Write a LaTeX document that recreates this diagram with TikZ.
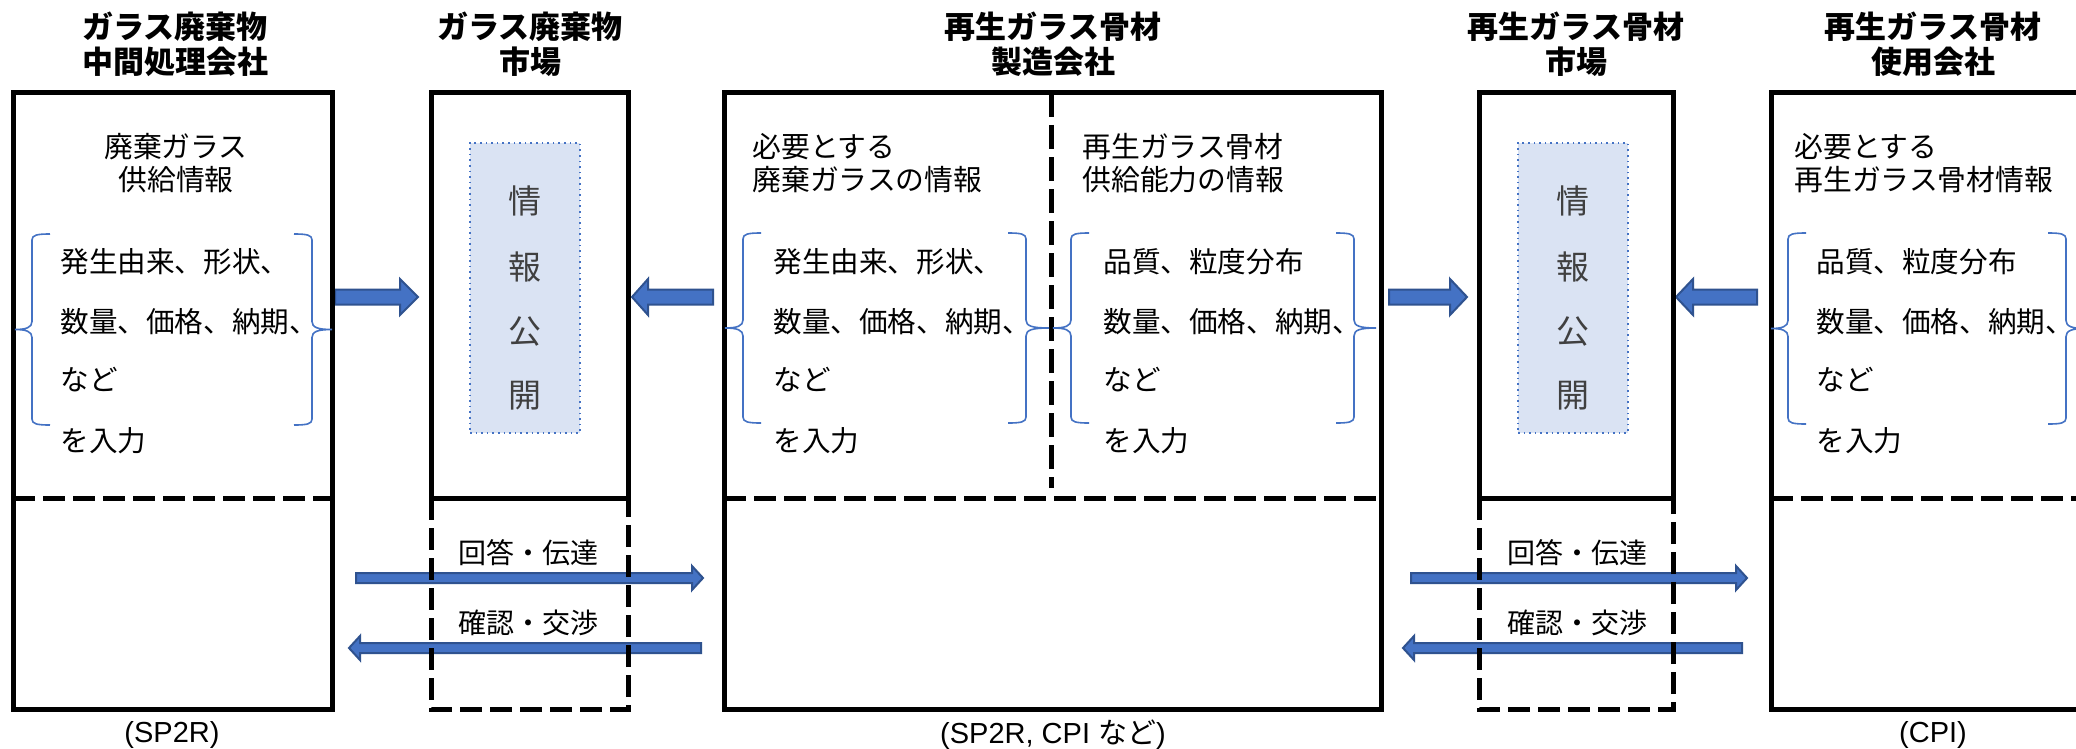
\documentclass[tikz,border=0pt]{standalone}
\usepackage{fontspec}
\setmainfont{Noto Sans CJK JP}
\newfontfamily\footfont{Liberation Sans}
\newfontfamily\cjkfoot{Noto Sans CJK JP}
\usetikzlibrary{calc}
\definecolor{arrowfill}{HTML}{4472C4}
\definecolor{arrowedge}{HTML}{2F528F}
\definecolor{bracecol}{HTML}{4472C4}
\definecolor{dotfill}{HTML}{DAE3F3}
\definecolor{dotedge}{HTML}{4472C4}
\definecolor{vtext}{HTML}{404040}
\tikzset{
 box/.style={line width=2.5pt, draw=black},
 dashline/.style={line width=2.5pt, draw=black, dash pattern=on 11pt off 4pt},
 hdr/.style={font=\fontsize{15.5pt}{18pt}\selectfont\bfseries, inner sep=0pt},
 ttl/.style={font=\fontsize{14.4pt}{17pt}\selectfont, inner sep=0pt},
 ttlw/.style={ttl, anchor=west},
 itm/.style={font=\fontsize{14.3pt}{16pt}\selectfont, inner sep=0pt, anchor=west},
 vch/.style={font=\fontsize{16.5pt}{18pt}\selectfont, text=vtext, inner sep=0pt},
 lbl/.style={font=\fontsize{14pt}{16pt}\selectfont, inner sep=0pt},
 foot/.style={font=\footfont\fontsize{14.5pt}{16pt}\selectfont, inner sep=0pt},
 brace/.style={draw=bracecol, line width=0.8pt},
 dotbox/.style={fill=dotfill, draw=dotedge, line width=0.8pt, dotted},
 blockarrow/.style={fill=arrowfill, draw=arrowedge, line width=1pt, line join=miter},
}
\newcommand\leftbr[4]{\pgfmathsetmacro\brmid{(#3+#4)/2}%
 \draw[brace] ({#1+18},#3) .. controls ({#1+5},#3) and (#1,{#3+1}) .. (#1,{#3+6}) -- (#1,{\brmid-8}) .. controls (#1,{\brmid-2}) and ({#1-6},\brmid) .. (#2,\brmid) .. controls ({#1-6},\brmid) and (#1,{\brmid+2}) .. (#1,{\brmid+8}) -- (#1,{#4-6}) .. controls (#1,{#4-1}) and ({#1+5},#4) .. ({#1+18},#4);}
\newcommand\rightbr[4]{\pgfmathsetmacro\brmid{(#3+#4)/2}%
 \draw[brace] ({#1-18},#3) .. controls ({#1-5},#3) and (#1,{#3+1}) .. (#1,{#3+6}) -- (#1,{\brmid-8}) .. controls (#1,{\brmid-2}) and ({#1+6},\brmid) .. (#2,\brmid) .. controls ({#1+6},\brmid) and (#1,{\brmid+2}) .. (#1,{\brmid+8}) -- (#1,{#4-6}) .. controls (#1,{#4-1}) and ({#1-5},#4) .. ({#1-18},#4);}
\newcommand\harrow[5]{\draw[blockarrow] ($(#1)+(0,#3)$) -- ($(#2)+({-(#5)},#3)$) -- ($(#2)+({-(#5)},#4)$) -- (#2) -- ($(#2)+({-(#5)},{-(#4)})$) -- ($(#2)+({-(#5)},{-(#3)})$) -- ($(#1)+(0,{-(#3)})$) -- cycle;}
\begin{document}
\begin{tikzpicture}[x=0.5pt, y=-0.5pt]
\useasboundingbox (0,0) rectangle (2076,749);
\clip (0,0) rectangle (2076,749);
\fill[white] (0,0) rectangle (2076,749);

% dotted info boxes
\node[dotbox, minimum width=55pt, minimum height=145pt, inner sep=0pt] (pub1) at (525,288) {};
\node[dotbox, minimum width=55pt, minimum height=145pt, inner sep=0pt] (pub2) at (1573,288) {};

% block arrows
\coordinate (a1s) at (335,297); \coordinate (a1t) at (418,297);
\coordinate (a2s) at (713,297); \coordinate (a2t) at (632,297);
\coordinate (a3s) at (1389,297); \coordinate (a3t) at (1467,297);
\coordinate (a4s) at (1757,297); \coordinate (a4t) at (1676,297);
\harrow{a1s}{a1t}{7.5}{18}{18}
\harrow{a2s}{a2t}{7.5}{18}{-16}
\harrow{a3s}{a3t}{7.5}{18}{17}
\harrow{a4s}{a4t}{7.5}{18}{-17}

% long arrows
\coordinate (l1s) at (356,578); \coordinate (l1t) at (703,578);
\coordinate (l2s) at (701,648); \coordinate (l2t) at (349,648);
\coordinate (l3s) at (1411,578); \coordinate (l3t) at (1747,578);
\coordinate (l4s) at (1742,648); \coordinate (l4t) at (1403,648);
\harrow{l1s}{l1t}{5}{12}{11}
\harrow{l2s}{l2t}{5}{12}{-11}
\harrow{l3s}{l3t}{5}{12}{11}
\harrow{l4s}{l4t}{5}{12}{-11}

% boxes
\draw[box] (13,93) rectangle (332,709);
\draw[dashline] (13,498) -- (332,498);
\draw[box] (431,93) rectangle (628,498);
\draw[dashline] (431,498) -- (431,709) -- (628,709) -- (628,498);
\draw[box] (724,93) rectangle (1381,709);
\draw[dashline] (724,498) -- (1381,498);
\draw[dashline, dash pattern=on 12pt off 4pt] (1051,93) -- (1051,488);
\draw[box] (1479,93) rectangle (1673,498);
\draw[dashline] (1479,498) -- (1479,709) -- (1673,709) -- (1673,498);
\draw[box] (1771,93) rectangle (2095,709);
\draw[dashline] (1771,498) -- (2095,498);

% braces
\leftbr{32}{15}{234}{425}
\rightbr{312}{332}{234}{425}
\leftbr{743}{725}{233}{423}
\rightbr{1026}{1049}{233}{423}
\leftbr{1071}{1053}{233}{423}
\rightbr{1354}{1376}{233}{423}
\leftbr{1788}{1771}{233}{424}
\rightbr{2066}{2086}{233}{424}

% headers
\node[hdr] (h1a) at (175,27) {ガラス廃棄物};
\node[hdr] (h1b) at (175,62) {中間処理会社};
\node[hdr] (h2a) at (530,27) {ガラス廃棄物};
\node[hdr] (h2b) at (530,62) {市場};
\node[hdr] (h3a) at (1053,27) {再生ガラス骨材};
\node[hdr] (h3b) at (1053,62) {製造会社};
\node[hdr] (h4a) at (1576,27) {再生ガラス骨材};
\node[hdr] (h4b) at (1576,62) {市場};
\node[hdr] (h5a) at (1933,27) {再生ガラス骨材};
\node[hdr] (h5b) at (1933,62) {使用会社};

% titles
\node[ttl] (t1a) at (176,147) {廃棄ガラス};
\node[ttl] (t1b) at (176,180) {供給情報};
\node[ttlw] (t3a) at (752,147) {必要とする};
\node[ttlw] (t3b) at (752,180) {廃棄ガラスの情報};
\node[ttlw] (t4a) at (1082,147) {再生ガラス骨材};
\node[ttlw] (t4b) at (1082,180) {供給能力の情報};
\node[ttlw] (t5a) at (1794,147) {必要とする};
\node[ttlw] (t5b) at (1794,180) {再生ガラス骨材情報};

% items
\node[itm] (i1a) at (60,262) {発生由来、形状、};
\node[itm] (i1b) at (60,322) {数量、価格、納期、};
\node[itm] (i1c) at (60,380) {など};
\node[itm] (i1d) at (60,441) {を入力};
\node[itm] (i3a) at (773,262) {発生由来、形状、};
\node[itm] (i3b) at (773,322) {数量、価格、納期、};
\node[itm] (i3c) at (773,380) {など};
\node[itm] (i3d) at (773,441) {を入力};
\node[itm] (i4a) at (1103,262) {品質、粒度分布};
\node[itm] (i4b) at (1103,322) {数量、価格、納期、};
\node[itm] (i4c) at (1103,380) {など};
\node[itm] (i4d) at (1103,441) {を入力};
\node[itm] (i5a) at (1816,262) {品質、粒度分布};
\node[itm] (i5b) at (1816,322) {数量、価格、納期、};
\node[itm] (i5c) at (1816,380) {など};
\node[itm] (i5d) at (1816,441) {を入力};

% vertical text
\node[vch] (v1a) at (525,201) {情};
\node[vch] (v1b) at (525,267) {報};
\node[vch] (v1c) at (525,332) {公};
\node[vch] (v1d) at (525,396) {開};
\node[vch] (v2a) at (1573,201) {情};
\node[vch] (v2b) at (1573,267) {報};
\node[vch] (v2c) at (1573,332) {公};
\node[vch] (v2d) at (1573,396) {開};

% arrow labels
\node[lbl] (r1) at (528,553) {回答・伝達};
\node[lbl] (c1) at (528,623) {確認・交渉};
\node[lbl] (r2) at (1577,553) {回答・伝達};
\node[lbl] (c2) at (1577,623) {確認・交渉};

% footers
\node[foot] (f1) at (172,735) {(SP2R)};
\node[foot] (f3) at (1053,735) {(SP2R, CPI {\cjkfoot など})};
\node[foot] (f5) at (1933,735) {(CPI)};
\end{tikzpicture}
\end{document}
